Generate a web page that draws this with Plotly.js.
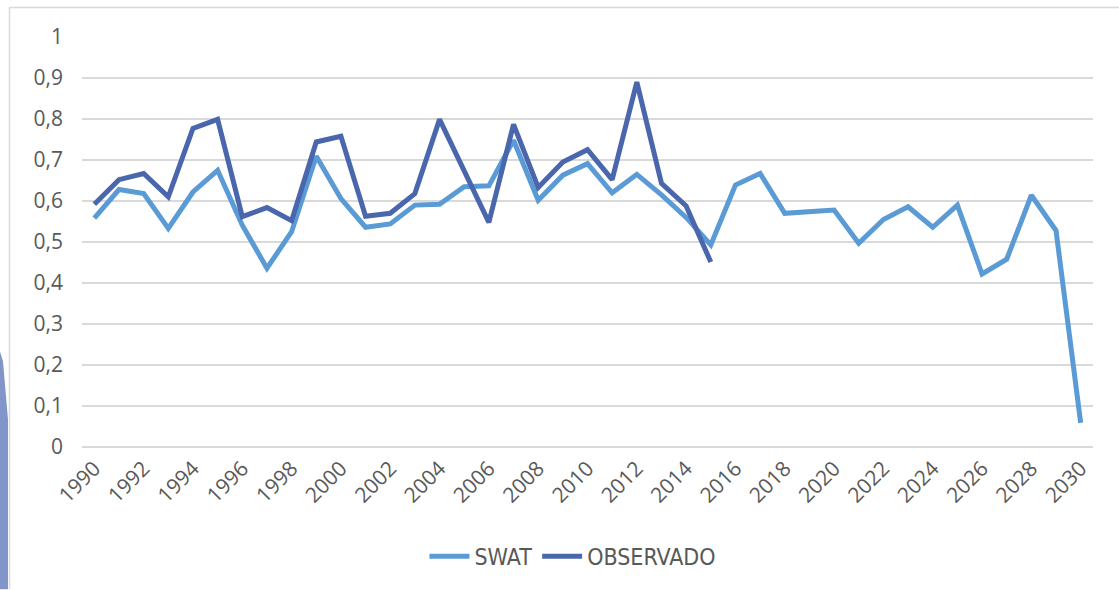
<!DOCTYPE html>
<html>
<head>
<meta charset="utf-8">
<script src="https://cdn.plot.ly/plotly-3.0.1.min.js"></script>
<style>
html,body{margin:0;padding:0;background:#fff;}
#chart{width:1119px;height:590px;}
</style>
</head>
<body>
<div id="chart"></div>
<script>
const years = [];
for (let y = 1990; y <= 2030; y++) years.push(y);

const swat = [0.558, 0.628, 0.618, 0.533, 0.622, 0.675, 0.541, 0.436, 0.525, 0.709,
              0.606, 0.536, 0.544, 0.590, 0.592, 0.635, 0.637, 0.748, 0.602, 0.663,
              0.691, 0.620, 0.665, 0.615, 0.560, 0.493, 0.639, 0.667, 0.570, 0.574,
              0.578, 0.497, 0.555, 0.586, 0.536, 0.590, 0.422, 0.458, 0.614, 0.528,
              0.059];

const obsYears = years.slice(0, 26);
const observado = [0.592, 0.652, 0.667, 0.610, 0.777, 0.799, 0.562, 0.584, 0.552, 0.744,
                   0.758, 0.563, 0.570, 0.618, 0.799, 0.675, 0.548, 0.787, 0.633, 0.695,
                   0.725, 0.652, 0.890, 0.643, 0.588, 0.451];

const yTickVals = [0, 0.1, 0.2, 0.3, 0.4, 0.5, 0.6, 0.7, 0.8, 0.9, 1];
const yTickText = ["0", "0,1", "0,2", "0,3", "0,4", "0,5", "0,6", "0,7", "0,8", "0,9", "1"];

const W = 1119, H = 590;
const L = 82, R = 26, T = 37, B = 142.5;
const pw = W - L - R, ph = H - T - B;
const px = v => (v - L) / pw;
const py = v => (H - B - v) / ph;

const traces = [
  {x: years, y: swat, name: "SWAT", type: "scatter", mode: "lines",
   line: {color: "#5B9BD5", width: 5}},
  {x: obsYears, y: observado, name: "OBSERVADO", type: "scatter", mode: "lines",
   line: {color: "#4A66AC", width: 5}}
];

const wedge = `M ${px(0)},${py(352)} L ${px(3)},${py(362)} L ${px(8)},${py(420)} L ${px(8)},${py(590)} L ${px(0)},${py(590)} Z`;

const layout = {
  width: W, height: H,
  margin: {l: L, r: R, t: T, b: B, pad: 0},
  paper_bgcolor: "#fff", plot_bgcolor: "#fff",
  font: {family: "Open Sans, sans-serif", color: "#595959", size: 21},
  showlegend: true,
  legend: {orientation: "h", xref: "container", yref: "container", x: 0.512, y: 0.057,
           xanchor: "center", yanchor: "middle",
           font: {family: "Liberation Sans Narrow, DejaVu Sans Condensed, sans-serif", size: 23, color: "#595959"},
           itemwidth: 40, tracegroupgap: 0},
  xaxis: {range: [1989.5, 2030.5], tickmode: "linear", tick0: 1990, dtick: 2,
          tickangle: -45, showgrid: false, zeroline: false, showline: false,
          ticks: "", ticklabelstandoff: 4, fixedrange: true,
          tickfont: {family: "Open Sans, sans-serif", size: 21, color: "#595959"}},
  yaxis: {range: [0, 1], tickvals: yTickVals, ticktext: yTickText,
          showgrid: true, gridcolor: "#D9D9D9", gridwidth: 1.5,
          zeroline: true, zerolinecolor: "#D9D9D9", zerolinewidth: 1.5,
          showline: false, ticks: "", ticklabelstandoff: 18, fixedrange: true,
          tickfont: {family: "Open Sans, sans-serif", size: 21, color: "#595959"}},
  shapes: [
    {type: "line", xref: "paper", yref: "paper", x0: px(9.5), x1: px(9.5), y0: py(7), y1: py(590),
     line: {color: "#D9D9D9", width: 1.5}},
    {type: "line", xref: "paper", yref: "paper", x0: px(9.5), x1: px(1119), y0: py(7.5), y1: py(7.5),
     line: {color: "#D9D9D9", width: 1.5}},
    {type: "path", xref: "paper", yref: "paper", path: wedge,
     fillcolor: "#8295C8", line: {width: 0}}
  ]
};

Plotly.newPlot("chart", traces, layout, {displayModeBar: false, staticPlot: true});
</script>
</body>
</html>
